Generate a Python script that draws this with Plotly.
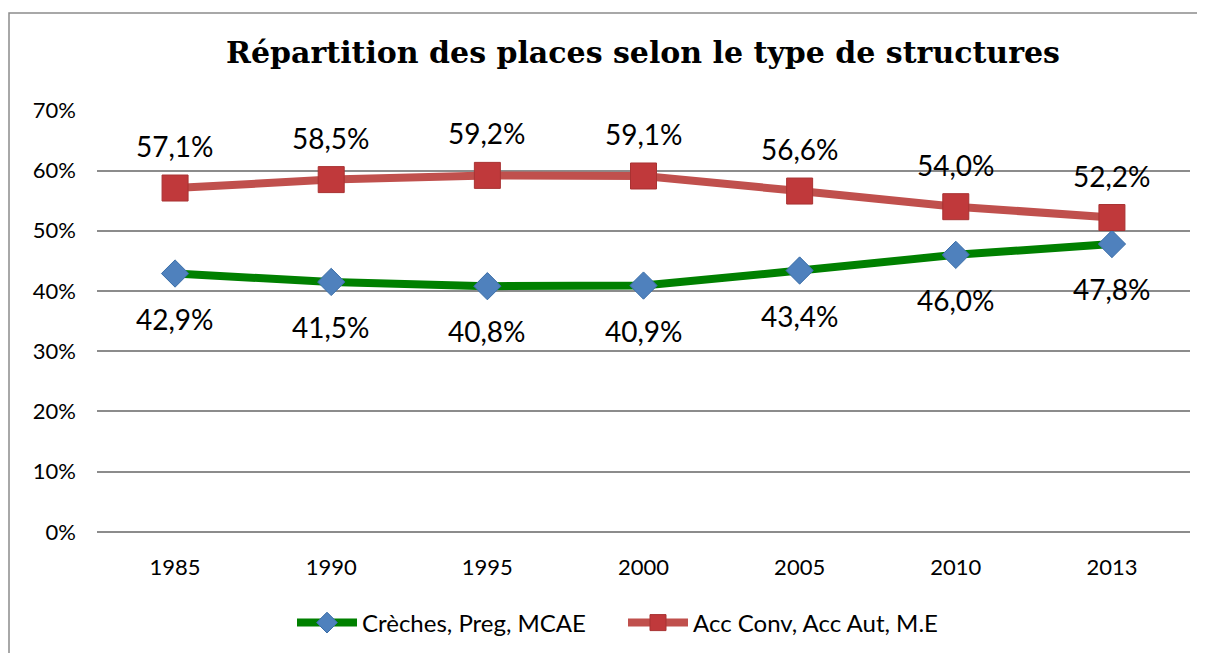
import plotly.graph_objects as go

years = ["1985", "1990", "1995", "2000", "2005", "2010", "2013"]
creches = [0.429, 0.415, 0.408, 0.409, 0.434, 0.460, 0.478]
acc = [0.571, 0.585, 0.592, 0.591, 0.566, 0.540, 0.522]
creches_labels = ["42,9%", "41,5%", "40,8%", "40,9%", "43,4%", "46,0%", "47,8%"]
acc_labels = ["57,1%", "58,5%", "59,2%", "59,1%", "56,6%", "54,0%", "52,2%"]
yticks = [0, 0.1, 0.2, 0.3, 0.4, 0.5, 0.6, 0.7]
ytick_text = ["0%", "10%", "20%", "30%", "40%", "50%", "60%", "70%"]

idx = list(range(len(years)))

W, H = 1205, 653
OFF = 8  # page body margin
L, R, T, B = 89, 23, 102, 129
pw, ph = W - L - R, H - T - B

def px_x(p):
    return (p - OFF - L) / pw

def px_y(p):
    return (H - B - (p - OFF)) / ph

font = "Lato, Open Sans, sans-serif"
grid = "#8C8C8C"

fig = go.Figure()
fig.add_trace(go.Scatter(
    x=idx, y=creches, name="Crèches, Preg, MCAE", mode="lines+markers",
    line=dict(color="#008000", width=8),
    marker=dict(symbol="diamond", size=21, color="#4F81BD", line=dict(color="#3A6EA8", width=1)),
))
fig.add_trace(go.Scatter(
    x=idx, y=acc, name="Acc Conv, Acc Aut, M.E", mode="lines+markers",
    line=dict(color="#C0504D", width=8),
    marker=dict(symbol="square", size=26, color="#C0393B", line=dict(color="#A83232", width=1)),
))

annotations = []
for x, y, t in zip(idx, acc, acc_labels):
    annotations.append(dict(x=x, y=y, text=t, showarrow=False, yshift=42,
                            font=dict(family=font, size=28, color="black")))
for x, y, t in zip(idx, creches, creches_labels):
    annotations.append(dict(x=x, y=y, text=t, showarrow=False, yshift=-45,
                            font=dict(family=font, size=28, color="black")))

fig.update_layout(
    width=W, height=H,
    margin=dict(l=L, r=R, t=T, b=B),
    paper_bgcolor="white", plot_bgcolor="white",
    title=dict(text="<b>Répartition des places selon le type de structures</b>",
               x=(643 - OFF) / W, xanchor="center", y=1 - (52 - OFF) / H, yanchor="middle",
               font=dict(family="DejaVu Serif, serif", size=30, color="black")),
    xaxis=dict(range=[-0.5, 6.5], tickvals=idx, ticktext=years,
               showgrid=False, showline=False, ticks="", zeroline=False,
               ticklabelstandoff=20,
               tickfont=dict(family=font, size=22, color="black")),
    yaxis=dict(range=[-0.0003, 0.7006], tickvals=yticks, ticktext=ytick_text,
               showgrid=True, gridcolor=grid, gridwidth=1.5,
               zeroline=True, zerolinecolor=grid, zerolinewidth=1.5,
               showline=False, ticks="", ticklabelstandoff=20,
               tickfont=dict(family=font, size=22, color="black")),
    legend=dict(orientation="h", x=px_x(292), xanchor="left", y=px_y(623), yanchor="middle",
                font=dict(family=font, size=24, color="black"),
                itemwidth=60, tracegroupgap=0,
                entrywidth=256, entrywidthmode="pixels"),
    showlegend=True,
    annotations=annotations,
    shapes=[dict(type="rect", xref="paper", yref="paper",
                 x0=px_x(9), x1=px_x(1225), y0=px_y(680), y1=px_y(13),
                 line=dict(color=grid, width=1.5), layer="below")],
)

fig.write_html("out.html")
